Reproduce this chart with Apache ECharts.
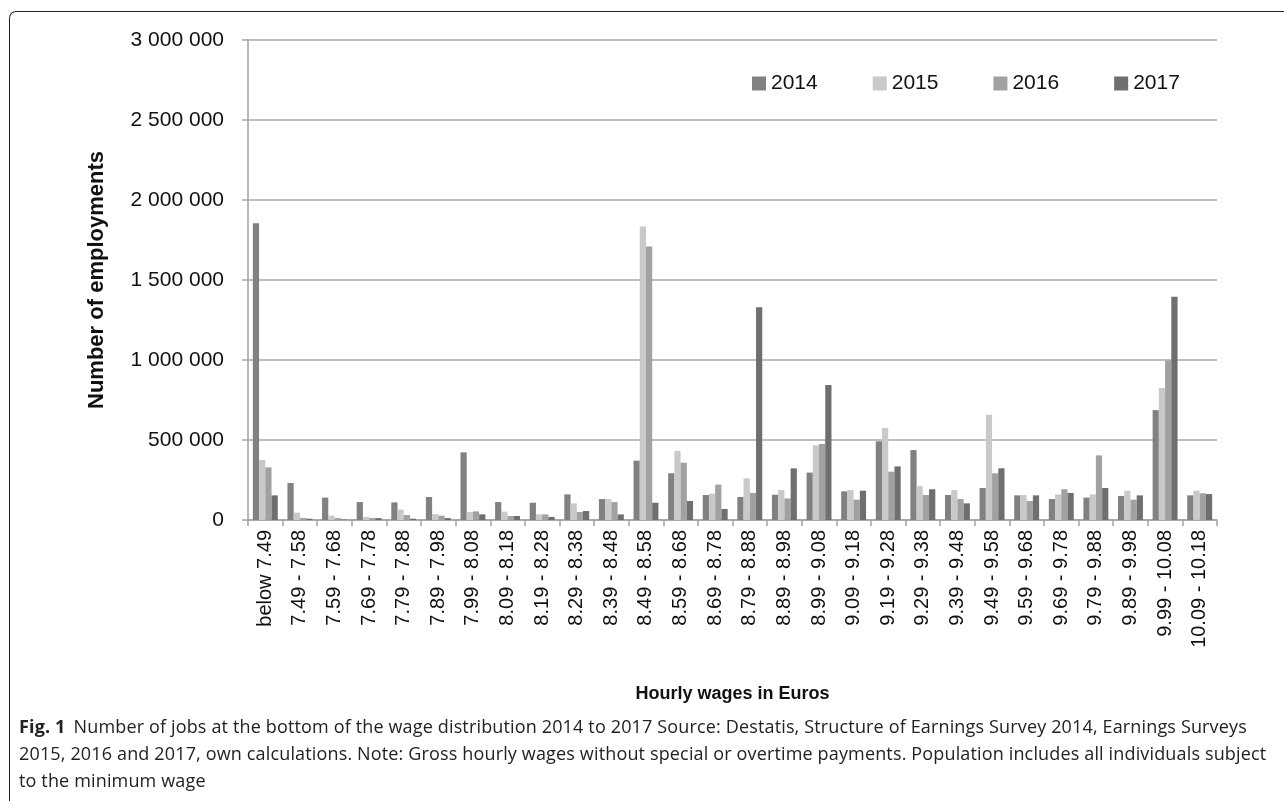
<!DOCTYPE html>
<html>
<head>
<meta charset="utf-8">
<script src="https://cdn.jsdelivr.net/npm/echarts@6/dist/echarts.min.js"></script>
<style>
  html, body { margin: 0; padding: 0; background: #fff; }
  #wrap { position: relative; width: 1284px; height: 801px; overflow: hidden; }
  #frame { position: absolute; left: 9px; top: 11px; width: 1290px; height: 800px;
           border-left: 1.5px solid #222; border-top: 1.5px solid #222; border-top-left-radius: 7px; }
  #chart { position: absolute; left: 0; top: 0; width: 1284px; height: 801px; }
  #caption { position: absolute; left: 19px; top: 713px; width: 1262px; white-space: nowrap;
             font-family: "Open Sans", sans-serif; font-size: 18px; line-height: 27px; color: #222;
             letter-spacing: 0.15px; }
  #caption b { font-weight: 700; margin-right: 8px; }
</style>
</head>
<body>
<div id="wrap">
  <div id="frame"></div>
  <div id="chart"></div>
  <div id="caption"><b>Fig. 1</b>Number of jobs at the bottom of the wage distribution 2014 to 2017 Source: Destatis, Structure of Earnings Survey 2014, Earnings Surveys<br>2015, 2016 and 2017, own calculations. Note: Gross hourly wages without special or overtime payments. Population includes all individuals subject<br>to the minimum wage</div>
</div>
<script>
const categories = ["below 7.49","7.49 - 7.58","7.59 - 7.68","7.69 - 7.78","7.79 - 7.88","7.89 - 7.98","7.99 - 8.08","8.09 - 8.18","8.19 - 8.28","8.29 - 8.38","8.39 - 8.48","8.49 - 8.58","8.59 - 8.68","8.69 - 8.78","8.79 - 8.88","8.89 - 8.98","8.99 - 9.08","9.09 - 9.18","9.19 - 9.28","9.29 - 9.38","9.39 - 9.48","9.49 - 9.58","9.59 - 9.68","9.69 - 9.78","9.79 - 9.88","9.89 - 9.98","9.99 - 10.08","10.09 - 10.18"];
const years = ["2014","2015","2016","2017"];
const v2014 = [1855000,231000,140000,112000,110000,144000,423000,112000,108000,160000,131000,371000,292000,156000,144000,158000,296000,179000,492000,437000,156000,200000,154000,131000,140000,150000,687000,154000];
const v2015 = [375000,46000,27000,19000,65000,37000,50000,52000,35000,104000,131000,1835000,431000,165000,260000,187000,467000,187000,575000,212000,187000,658000,156000,160000,160000,183000,825000,183000];
const v2016 = [329000,12000,12000,12000,31000,27000,54000,25000,35000,50000,112000,1710000,358000,221000,169000,135000,475000,127000,302000,156000,131000,292000,119000,192000,404000,127000,997000,167000];
const v2017 = [154000,8000,3000,12000,8000,12000,35000,25000,19000,56000,35000,108000,119000,69000,1329000,323000,844000,183000,335000,192000,104000,323000,154000,169000,200000,154000,1396000,162000];
const yTicks = [0,500000,1000000,1500000,2000000,2500000,3000000];

const colors = ["#818181","#c9c9c9","#a1a1a1","#6f6f6f"];
const seriesData = [v2014, v2015, v2016, v2017];
const font = "Liberation Sans";

const chart = echarts.init(document.getElementById('chart'), null, {renderer: 'canvas'});
chart.setOption({
  animation: false,
  backgroundColor: 'transparent',
  grid: { left: 248, right: 67, top: 40, bottom: 281, containLabel: false },
  legend: {
    data: years, left: 747, top: 68, itemWidth: 14, itemHeight: 14, itemGap: 55,
    icon: 'rect',
    textStyle: { fontFamily: font, fontSize: 21, color: '#111', padding: [0,0,0,0] }
  },
  xAxis: {
    type: 'category', data: categories,
    name: 'Hourly wages in Euros', nameLocation: 'middle', nameGap: 165,
    nameTextStyle: { fontFamily: font, fontSize: 18, fontWeight: 'bold', color: '#111' },
    axisLine: { lineStyle: { color: '#a3a3a3', width: 1.5 } },
    axisTick: { show: true, length: 6, lineStyle: { color: '#a3a3a3', width: 1.5 } },
    axisLabel: { rotate: 90, margin: 10, interval: 0, fontFamily: font, fontSize: 20, color: '#111' }
  },
  yAxis: {
    type: 'value', min: yTicks[0], max: yTicks[yTicks.length-1], interval: yTicks[1]-yTicks[0],
    name: 'Number of employments', nameLocation: 'middle', nameGap: 140,
    nameTextStyle: { fontFamily: font, fontSize: 22, fontWeight: 'bold', color: '#111' },
    axisLine: { show: true, lineStyle: { color: '#a3a3a3', width: 1.5 } },
    axisTick: { show: true, length: 6, lineStyle: { color: '#a3a3a3', width: 1.5 } },
    splitLine: { lineStyle: { color: '#a8a8a8', width: 1.5 } },
    axisLabel: { margin: 24, fontFamily: font, fontSize: 21, color: '#111',
      formatter: v => String(v).replace(/\B(?=(\d{3})+(?!\d))/g, ' ') }
  },
  series: years.map((y, i) => ({
    name: y, type: 'bar', data: seriesData[i],
    barGap: '0%', barCategoryGap: '28%',
    itemStyle: { color: colors[i] }
  }))
});
</script>
</body>
</html>
